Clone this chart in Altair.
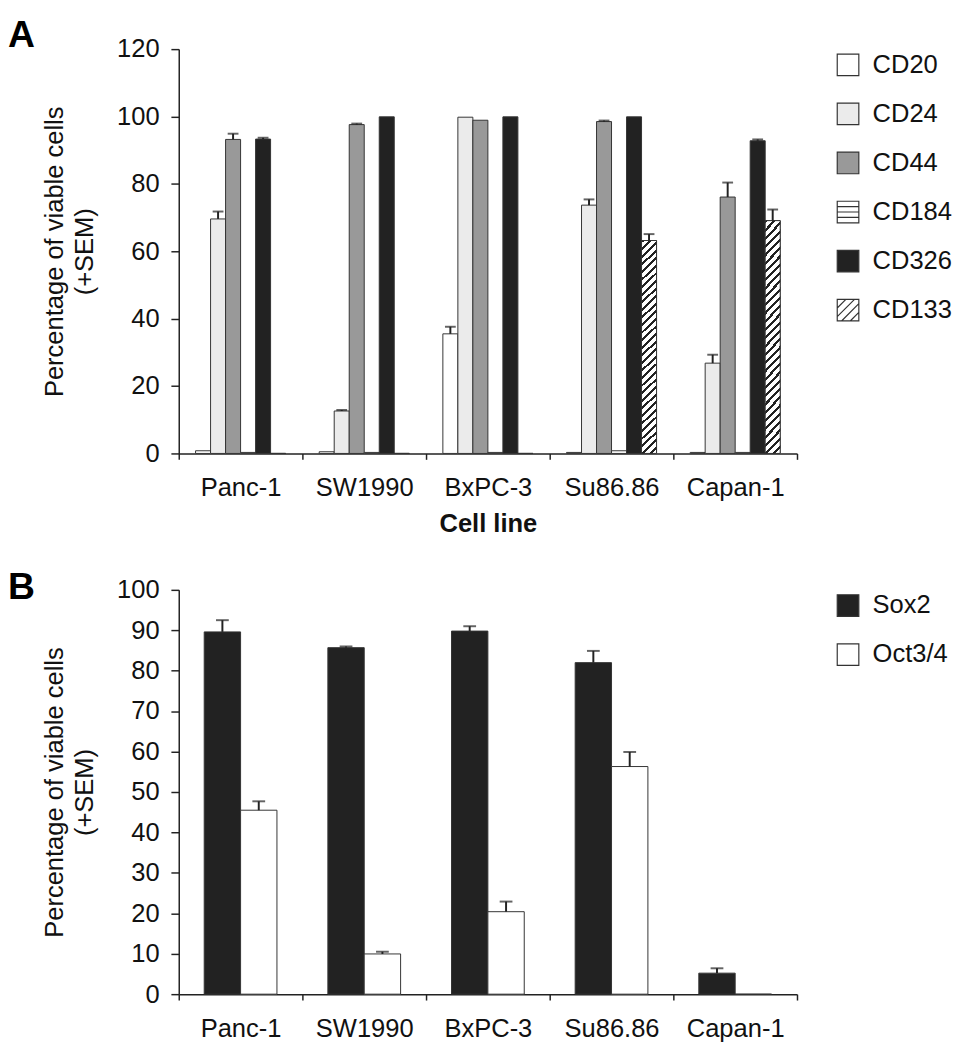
import altair as alt
import pandas as pd

FONT = "Liberation Sans"

# ---------------- data ----------------
cell_lines = ["Panc-1", "SW1990", "BxPC-3", "Su86.86", "Capan-1"]

markers_a = ["CD20", "CD24", "CD44", "CD184", "CD326", "CD133"]
cd20 = [0.8, 0.5, 35.5, 0.3, 0.3]
cd20_err = [0.0, 0.0, 2.1, 0.0, 0.0]
cd24 = [69.6, 12.6, 99.8, 73.7, 26.8]
cd24_err = [2.2, 0.3, 0.0, 1.7, 2.5]
cd44 = [93.2, 97.6, 98.9, 98.5, 76.1]
cd44_err = [1.7, 0.3, 0.0, 0.3, 4.3]
cd184 = [0.3, 0.3, 0.3, 0.8, 0.3]
cd184_err = [0.0, 0.0, 0.0, 0.0, 0.0]
cd326 = [93.3, 99.9, 99.9, 99.9, 92.8]
cd326_err = [0.4, 0.0, 0.0, 0.0, 0.4]
cd133 = [0.0, 0.0, 0.0, 63.2, 69.1]
cd133_err = [0.0, 0.0, 0.0, 1.9, 3.3]

markers_b = ["Sox2", "Oct3/4"]
sox2 = [89.6, 85.7, 89.8, 82.0, 5.2]
sox2_err = [2.9, 0.3, 1.2, 2.9, 1.2]
oct34 = [45.5, 9.95, 20.4, 56.3, 0.0]
oct34_err = [2.2, 0.55, 2.5, 3.6, 0.0]

y_ticks_a = [0, 20, 40, 60, 80, 100, 120]
y_ticks_b = [0, 10, 20, 30, 40, 50, 60, 70, 80, 90, 100]


def table(cells, markers, series, errors):
    rows = []
    for m, vals, errs in zip(markers, series, errors):
        for c, v, e in zip(cells, vals, errs):
            rows.append({"cell": c, "marker": m, "value": v, "err": e, "top": v + e})
    return pd.DataFrame(rows)


df_a = table(cell_lines, markers_a,
             [cd20, cd24, cd44, cd184, cd326, cd133],
             [cd20_err, cd24_err, cd44_err, cd184_err, cd326_err, cd133_err])
df_b = table(cell_lines, markers_b, [sox2, oct34], [sox2_err, oct34_err])

# ---------------- styles ----------------
fills_a = ["#ffffff", "#ebebeb", "#999999", "#ffffff", "#222222", "#ffffff"]
SQ = "M-1,-1H1V1H-1Z"
shapes_a = [
    SQ, SQ, SQ,
    SQ + "M-1,-0.5H1M-1,0H1M-1,0.5H1",
    SQ,
    SQ + "M-1,-0.2L-0.2,-1M-1,0.6L0.6,-1M-0.6,1L1,-0.6M0.2,1L1,0.2",
]
fills_b = ["#222222", "#ffffff"]

W, H = 630, 412
DARK = "#222222"
EDGE = "#333333"
strokes_a = [EDGE] * len(markers_a)

# diagonal hatch as a hard-stop linear gradient (tuned to bar pixel size)
bw, bh = 15.3, 227.0
k = (bw + bh) / (bw ** 2 + bh ** 2)
n_periods = 30
stops = []
for i in range(n_periods):
    a0 = i / n_periods
    a1 = (i + 0.38) / n_periods
    a2 = (i + 1) / n_periods
    stops += [alt.GradientStop(color=DARK, offset=a0),
              alt.GradientStop(color=DARK, offset=a1),
              alt.GradientStop(color="#ffffff", offset=a1),
              alt.GradientStop(color="#ffffff", offset=a2)]
hatch = alt.LinearGradient(gradient="linear", stops=stops,
                           x1=0, y1=0, x2=bw * k, y2=bh * k)

legend_kw = dict(title=None, orient="right", offset=36, padding=3,
                 labelFontSize=26, labelFont=FONT, labelColor="#111111",
                 symbolSize=484, rowPadding=22, labelOffset=12,
                 symbolStrokeWidth=1.2, symbolOpacity=1,
                 symbolStrokeColor=EDGE)


def x_enc(title):
    return alt.X("cell:N", sort=cell_lines,
                 scale=alt.Scale(paddingInner=0, paddingOuter=0),
                 axis=alt.Axis(title=title, tickBand="extent", labelAngle=0,
                               tickSize=6, labelPadding=16,
                               titleFontWeight="bold", titleFontSize=26,
                               titlePadding=11))


def y_enc(ticks, top):
    return alt.Y("value:Q", scale=alt.Scale(domain=[0, top], nice=False),
                 axis=alt.Axis(title=["Percentage of viable cells", "(+SEM)"],
                               values=ticks, tickSize=8, labelPadding=12,
                               titleFontWeight="normal", titleFontSize=26,
                               titleLineHeight=31, titlePadding=19, grid=False))


# ---------------- panel A ----------------
offset_domain_a = ["_pad_left"] + markers_a + ["_pad_right"]
xo_a = alt.XOffset("marker:N", sort=markers_a,
                   scale=alt.Scale(domain=offset_domain_a, paddingInner=0, paddingOuter=0.12))
fill_a = alt.Fill("marker:N", sort=markers_a,
                  scale=alt.Scale(domain=markers_a, range=fills_a),
                  legend=alt.Legend(**legend_kw))

base_a = alt.Chart(df_a)
bars_a = base_a.mark_bar(stroke=EDGE, strokeWidth=1).encode(
    x=x_enc("Cell line"), xOffset=xo_a, y=y_enc(y_ticks_a, 120), fill=fill_a)
hatch_a = base_a.transform_filter(alt.datum.marker == "CD133").mark_bar(
    fill=hatch, stroke=EDGE, strokeWidth=1).encode(
    x=alt.X("cell:N", sort=cell_lines), xOffset=xo_a, y="value:Q")
err_a = base_a.transform_filter(alt.datum.err > 0).mark_rule(
    color=DARK, strokeWidth=2).encode(
    x=alt.X("cell:N", sort=cell_lines), xOffset=xo_a, y="value:Q", y2="top:Q")
cap_a = base_a.transform_filter(alt.datum.err > 0).mark_tick(
    color=DARK, thickness=2, size=11).encode(
    x=alt.X("cell:N", sort=cell_lines), xOffset=xo_a, y="top:Q")
leg_a = base_a.mark_point(opacity=0, filled=True, strokeWidth=1.2).encode(
    x=alt.X("cell:N", sort=cell_lines), xOffset=xo_a, y="value:Q",
    fill=fill_a,
    stroke=alt.Stroke("marker:N", sort=markers_a,
                      scale=alt.Scale(domain=markers_a, range=strokes_a),
                      legend=alt.Legend(**legend_kw)),
    shape=alt.Shape("marker:N", sort=markers_a,
                    scale=alt.Scale(domain=markers_a, range=shapes_a),
                    legend=alt.Legend(**legend_kw)))

chart_a = alt.layer(bars_a, hatch_a, err_a, cap_a, leg_a).properties(
    width=W, height=H,
    title=alt.TitleParams("A", anchor="start", frame="group", fontSize=38,
                          fontWeight="bold", font=FONT, dx=-174, offset=-19))

# ---------------- panel B ----------------
xo_b = alt.XOffset("marker:N", sort=markers_b,
                   scale=alt.Scale(domain=markers_b, paddingInner=0, paddingOuter=0.7))
base_b = alt.Chart(df_b)
bars_b = base_b.mark_bar(stroke=EDGE, strokeWidth=1).encode(
    x=x_enc(None), xOffset=xo_b, y=y_enc(y_ticks_b, 100),
    fill=alt.Fill("marker:N", sort=markers_b,
                  scale=alt.Scale(domain=markers_b, range=fills_b),
                  legend=alt.Legend(symbolType="square", **legend_kw)))
err_b = base_b.transform_filter(alt.datum.err > 0).mark_rule(
    color=DARK, strokeWidth=2).encode(
    x=alt.X("cell:N", sort=cell_lines), xOffset=xo_b, y="value:Q", y2="top:Q")
cap_b = base_b.transform_filter(alt.datum.err > 0).mark_tick(
    color=DARK, thickness=2, size=13).encode(
    x=alt.X("cell:N", sort=cell_lines), xOffset=xo_b, y="top:Q")

chart_b = alt.layer(bars_b, err_b, cap_b).properties(
    width=W, height=H,
    title=alt.TitleParams("B", anchor="start", frame="group", fontSize=38,
                          fontWeight="bold", font=FONT, dx=-174, offset=-30))

chart = alt.vconcat(chart_a, chart_b, spacing=33).resolve_scale(
    fill="independent", shape="independent", stroke="independent",
    xOffset="independent"
).resolve_legend(
    fill="independent", shape="independent", stroke="independent"
).configure(
    font=FONT, padding=0
).configure_view(stroke=None).configure_axis(
    labelFont=FONT, titleFont=FONT, labelFontSize=26, labelColor="#111111",
    titleColor="#111111", domainColor=DARK, domainWidth=1.5,
    tickColor=DARK, tickWidth=1.5
).configure_legend(symbolStrokeColor=EDGE, symbolStrokeWidth=1.2)

chart.save("out.html", embed_options={"renderer": "svg", "actions": False})
